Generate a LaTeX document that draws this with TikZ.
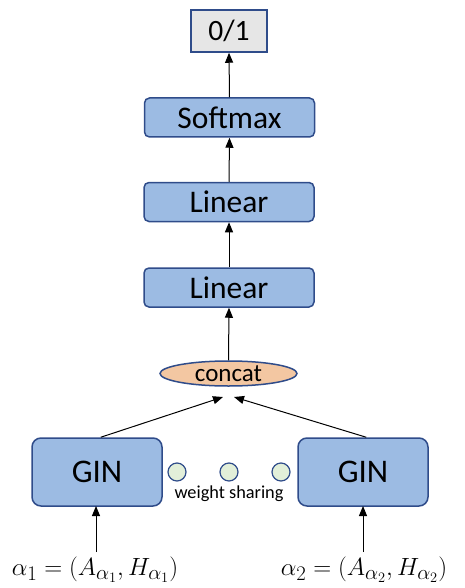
\documentclass[tikz,border=0pt]{standalone}
\usepackage{fontspec}
\setmainfont{Carlito}
\usetikzlibrary{arrows.meta,shapes.geometric}
\definecolor{boxfill}{HTML}{9CBBE3}
\definecolor{boxline}{HTML}{2F4C8A}
\definecolor{grayfill}{HTML}{E6E6E6}
\definecolor{peach}{HTML}{F3C7A2}
\definecolor{mint}{HTML}{E2EFD9}
\tikzset{
  layer/.style={draw=boxline,fill=boxfill,line width=1.5pt,rounded corners=5pt,minimum width=170pt,minimum height=39pt,inner sep=0pt,font=\fontsize{31.5}{34}\selectfont},
  outbox/.style={draw=boxline,fill=grayfill,line width=1.5pt,minimum width=76pt,minimum height=42pt,inner sep=0pt,font=\fontsize{29.5}{32}\selectfont},
  ginbox/.style={draw=boxline,fill=boxfill,line width=1.5pt,rounded corners=9pt,minimum width=130pt,minimum height=68pt,inner sep=0pt,font=\fontsize{33}{36}\selectfont},
  catnode/.style={ellipse,draw=boxline,fill=peach,line width=1.5pt,minimum width=137pt,minimum height=25pt,inner sep=0pt,font=\fontsize{25}{27}\selectfont},
  dot/.style={circle,draw=boxline,fill=mint,line width=1.2pt,minimum size=18pt,inner sep=0pt},
  arr/.style={-{Triangle[length=10pt,width=8pt]},line width=1pt},
  mathlbl/.style={inner sep=0pt,font=\fontsize{28}{30}\selectfont}
}
\begin{document}
\begin{tikzpicture}[x=1pt,y=-1pt]
\useasboundingbox (0,0) rectangle (464,588);
\node[outbox] (out) at (229,31) {0/1};
\node[layer] (soft) at (229.5,117.5) {Softmax};
\node[layer] (lin1) at (229,202) {Linear};
\node[layer] (lin2) at (229,287.5) {Linear};
\node[catnode] (cat) at (228.5,373.5) {concat};
\node[ginbox] (g1) at (97,472) {GIN};
\node[ginbox] (g2) at (363,472) {GIN};
\node[dot] (d1) at (177,472) {};
\node[dot] (d2) at (229,472) {};
\node[dot] (d3) at (281,472) {};
\node[inner sep=0pt,font=\fontsize{18.3}{20}\selectfont] (ws) at (229,494) {weight sharing};
\node[mathlbl] (a1) at (95,570) {$\alpha_1=(A_{\alpha_1},H_{\alpha_1})$};
\node[mathlbl] (a2) at (364,570) {$\alpha_2=(A_{\alpha_2},H_{\alpha_2})$};
\coordinate (c1) at (223,397);
\coordinate (c2) at (234,397);
\draw[arr] (soft.north) -- (out.south);
\draw[arr] (lin1.north) -- (soft.south);
\draw[arr] (lin2.north) -- (lin1.south);
\draw[arr] (cat.north) -- (lin2.south);
\draw[arr] (g1.north east) ++(-62,0) -- (c1);
\draw[arr] (g2.north west) ++(69,0) -- (c2);
\draw[arr] (96,552) -- (96,506);
\draw[arr] (363,552) -- (363,506);
\end{tikzpicture}
\end{document}
